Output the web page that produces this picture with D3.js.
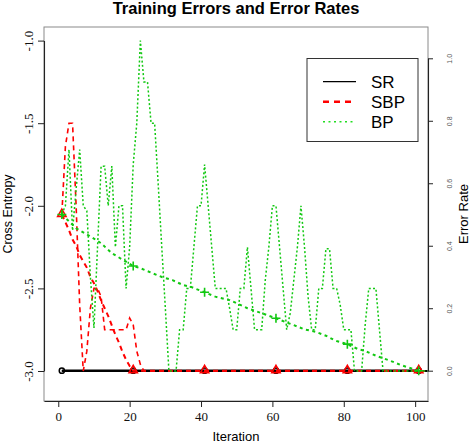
<!DOCTYPE html>
<html>
<head>
<meta charset="utf-8">
<script src="https://cdn.jsdelivr.net/npm/d3@7"></script>
<style>
  body { margin: 0; background: #fff; }
  svg text { font-family: "Liberation Sans", Arial, sans-serif; }
</style>
</head>
<body>
<div id="chart"></div>
<script>
// cross entropy per iteration (1..104), left axis
const bpEntropy = [
  -2.05, -2.00, -1.66, -2.15, -1.90, -1.66, -2.00, -2.03, -2.43, -2.74,
  -2.25, -1.76, -1.76, -2.00, -1.76, -2.25, -2.00, -2.00, -2.50, -2.25,
  -1.75, -1.50, -1.00, -1.25, -1.25, -1.50, -1.50, -1.87, -2.25, -2.62,
  -3.00, -3.00, -3.00, -2.75, -2.75, -2.50, -2.50, -2.25, -2.00, -2.00,
  -1.75, -2.00, -2.25, -2.50, -2.50, -2.50, -2.50, -2.62, -2.75, -2.75,
  -2.50, -2.50, -2.25, -2.50, -2.75, -2.75, -2.75, -2.45, -2.25, -2.00,
  -2.00, -2.25, -2.50, -2.75, -2.65, -2.45, -2.25, -2.00, -2.25, -2.55,
  -2.75, -2.75, -2.50, -2.50, -2.26, -2.26, -2.50, -2.50, -2.60, -2.75,
  -2.75, -2.75, -3.00, -3.00, -3.00, -2.72, -2.50, -2.50, -2.50, -2.75,
  -3.00, -3.00, -3.00, -3.00, -3.00, -3.00, -3.00, -3.00, -3.00, -3.00,
  -3.00, -3.00, -3.00, -3.00
]
const sbpEntropy = [
  -2.05, -1.64, -1.50, -1.50, -2.00, -2.60, -3.00, -2.88, -2.62, -2.50,
  -2.50, -2.55, -2.75, -2.75, -2.75, -2.75, -2.75, -2.75, -2.75, -2.68,
  -2.72, -2.88, -2.96, -3.00, -3.00, -3.00, -3.00, -3.00, -3.00, -3.00,
  -3.00, -3.00, -3.00, -3.00, -3.00, -3.00, -3.00, -3.00, -3.00, -3.00,
  -3.00, -3.00, -3.00, -3.00, -3.00, -3.00, -3.00, -3.00, -3.00, -3.00,
  -3.00, -3.00, -3.00, -3.00, -3.00, -3.00, -3.00, -3.00, -3.00, -3.00,
  -3.00, -3.00, -3.00, -3.00, -3.00, -3.00, -3.00, -3.00, -3.00, -3.00,
  -3.00, -3.00, -3.00, -3.00, -3.00, -3.00, -3.00, -3.00, -3.00, -3.00,
  -3.00, -3.00, -3.00, -3.00, -3.00, -3.00, -3.00, -3.00, -3.00, -3.00,
  -3.00, -3.00, -3.00, -3.00, -3.00, -3.00, -3.00, -3.00, -3.00, -3.00,
  -3.00, -3.00, -3.00, -3.00
]
const srEntropyIter = [1, 104]
const srEntropy = [-3.0, -3.0]

// error rates, right axis
const srRateIter = [1, 21, 41, 61, 81, 101]
const srRate = [0, 0, 0, 0, 0, 0]
const sbpRateIter = [1, 2, 3, 4, 5, 6, 7, 8, 9, 10, 11, 12, 13, 14, 15, 16, 17, 18, 19, 20, 21, 41, 61, 81, 101]
const sbpRate = [0.50, 0.475, 0.45, 0.42, 0.40, 0.37, 0.35, 0.33, 0.30, 0.28, 0.255, 0.225, 0.20, 0.175,
  0.145, 0.115, 0.09, 0.06, 0.035, 0.015, 0.0, 0.0, 0.0, 0.0, 0.0]
const bpRateIter = [1, 5, 9, 12, 15, 19, 21, 23, 26, 29, 32, 35, 37, 41, 44, 48, 50, 53, 57, 61,
  64, 66, 69, 72, 75, 77, 78, 81, 84, 86, 89, 93, 96, 101]
const bpRate = [0.50, 0.456, 0.43, 0.408, 0.376, 0.349, 0.335, 0.328, 0.314, 0.30, 0.29, 0.274, 0.269,
  0.251, 0.237, 0.226, 0.216, 0.20, 0.184, 0.168, 0.154, 0.146, 0.132, 0.125, 0.112, 0.10, 0.095,
  0.085, 0.069, 0.063, 0.048, 0.032, 0.018, 0.0]

const markerIters = [1, 21, 41, 61, 81, 101]
const xTicks = [0, 20, 40, 60, 80, 100]
const leftTicks = [-3.0, -2.5, -2.0, -1.5, -1.0]
const rightTicks = [0.0, 0.2, 0.4, 0.6, 0.8, 1.0]
const legendNames = ["SR", "SBP", "BP"]

const green = "#11c811"
const red = "#ff0000"

const box = { left: 44, top: 27, right: 428, bottom: 401 }

const svg = d3.select("#chart").append("svg")
  .attr("width", 470).attr("height", 444)

const x = d3.scaleLinear().domain([-4, 103.6]).range([box.left, box.right])
const yL = d3.scaleLinear().domain([-3, -1]).range([371, 40.6])
const yR = d3.scaleLinear().domain([0, 1]).range([370.7, 58.3])

svg.append("defs").append("clipPath").attr("id", "plotclip")
  .append("rect")
  .attr("x", box.left).attr("y", box.top)
  .attr("width", box.right - box.left).attr("height", box.bottom - box.top)

const pairs = (iters, vals) => iters.map((it, i) => [it, vals[i]])
const perIter = vals => vals.map((v, i) => [i + 1, v])

const lineL = d3.line().x(d => x(d[0])).y(d => yL(d[1]))
const lineR = d3.line().x(d => x(d[0])).y(d => yR(d[1]))

const plot = svg.append("g").attr("clip-path", "url(#plotclip)")

const series = [
  { data: pairs(srEntropyIter, srEntropy), gen: lineL, color: "#000", width: 2.2, dash: null },
  { data: pairs(srRateIter, srRate), gen: lineR, color: "#000", width: 2.2, dash: null },
  { data: perIter(sbpEntropy), gen: lineL, color: red, width: 1.6, dash: "5,4" },
  { data: pairs(sbpRateIter, sbpRate), gen: lineR, color: red, width: 2, dash: "5,4" },
  { data: perIter(bpEntropy), gen: lineL, color: green, width: 1.5, dash: "2,2.2" },
  { data: pairs(bpRateIter, bpRate), gen: lineR, color: green, width: 2, dash: "3,3.5" }
]

const markerPts = (iters, vals) => pairs(iters, vals).filter(d => markerIters.includes(d[0]))

function drawLine(s) {
  plot.append("path")
    .attr("d", s.gen(s.data))
    .attr("fill", "none")
    .attr("stroke", s.color)
    .attr("stroke-width", s.width)
    .attr("stroke-dasharray", s.dash)
}

series.slice(0, 2).forEach(drawLine)
// SR circles
plot.selectAll(".srpt").data(markerPts(srRateIter, srRate)).enter().append("circle")
  .attr("cx", d => x(d[0])).attr("cy", d => yR(d[1])).attr("r", 2.6)
  .attr("fill", "none").attr("stroke", "#000").attr("stroke-width", 1.5)

series.slice(2, 4).forEach(drawLine)
// SBP triangles
plot.selectAll(".sbppt").data(markerPts(sbpRateIter, sbpRate)).enter().append("path")
  .attr("d", d3.symbol().type(d3.symbolTriangle).size(30))
  .attr("transform", d => `translate(${x(d[0])},${yR(d[1]) - 0.5})`)
  .attr("fill", "none").attr("stroke", red).attr("stroke-width", 1.6)

series.slice(4).forEach(drawLine)
// BP crosses
plot.selectAll(".bppt").data(markerPts(bpRateIter, bpRate)).enter().append("path")
  .attr("d", "M-4.5,0H4.5M0,-4.5V4.5")
  .attr("transform", d => `translate(${x(d[0])},${yR(d[1])})`)
  .attr("fill", "none").attr("stroke", green).attr("stroke-width", 1.6)

// box
svg.append("rect")
  .attr("x", box.left).attr("y", box.top)
  .attr("width", box.right - box.left).attr("height", box.bottom - box.top)
  .attr("fill", "none").attr("stroke", "#8a8a8a").attr("stroke-width", 1)

// axes
const fmt = d => d.toFixed(1)
const styleAxis = g => {
  g.select(".domain").attr("stroke", "#222").attr("stroke-width", 1.1)
  g.selectAll(".tick line").attr("stroke", "#222")
}

svg.append("g").attr("transform", `translate(0,${box.bottom})`)
  .call(d3.axisBottom(x).tickValues(xTicks).tickSize(6).tickSizeOuter(0))
  .call(styleAxis)
  .call(g => g.selectAll(".tick text")
    .attr("y", 20).attr("dy", 0)
    .style("font-family", "'Liberation Serif', 'Times New Roman', serif")
    .style("font-size", "13px").attr("fill", "#111"))

svg.append("g").attr("transform", `translate(${box.left},0)`)
  .call(d3.axisLeft(yL).tickValues(leftTicks).tickFormat(fmt).tickSize(6).tickSizeOuter(0))
  .call(styleAxis)
  .call(g => g.selectAll(".tick text")
    .attr("transform", "rotate(-90)")
    .attr("x", 0).attr("y", -11).attr("dy", 0)
    .attr("text-anchor", "middle")
    .style("font-family", "'Liberation Serif', 'Times New Roman', serif")
    .style("font-size", "13px").attr("fill", "#111"))

svg.append("g").attr("transform", `translate(${box.right},0)`)
  .call(d3.axisRight(yR).tickValues(rightTicks).tickFormat(fmt).tickSize(5).tickSizeOuter(0))
  .call(styleAxis)
  .call(g => g.selectAll(".tick text")
    .attr("transform", "rotate(-90)")
    .attr("x", 0).attr("y", 23.5).attr("dy", 0)
    .attr("text-anchor", "middle")
    .style("font-size", "7px").attr("fill", "#555"))

// titles
svg.append("text").attr("x", 236).attr("y", 14).attr("text-anchor", "middle")
  .style("font-size", "16.5px").style("font-weight", "bold").text("Training Errors and Error Rates")
svg.append("text").attr("x", 236).attr("y", 441).attr("text-anchor", "middle")
  .style("font-size", "13px").text("Iteration")
svg.append("text").attr("transform", "translate(11.5,214) rotate(-90)").attr("text-anchor", "middle")
  .style("font-size", "12.5px").text("Cross Entropy")
svg.append("text").attr("transform", "translate(468,214) rotate(-90)").attr("text-anchor", "middle")
  .style("font-size", "13px").text("Error Rate")

// legend
const legend = svg.append("g")
legend.append("rect").attr("x", 307).attr("y", 58.5).attr("width", 111).attr("height", 83)
  .attr("fill", "#fff").attr("stroke", "#333").attr("stroke-width", 1)
const legendStyle = [
  { color: "#000", width: 1.3, dash: null },
  { color: red, width: 2.5, dash: "6,5" },
  { color: "#22dd22", width: 1.5, dash: "2,3.5" }
]
legendNames.forEach((name, i) => {
  const ly = 81.7 + i * 20
  legend.append("line").attr("x1", 323).attr("x2", 356).attr("y1", ly).attr("y2", ly)
    .attr("stroke", legendStyle[i].color).attr("stroke-width", legendStyle[i].width)
    .attr("stroke-dasharray", legendStyle[i].dash)
  legend.append("text").attr("x", 371).attr("y", ly + 6)
    .style("font-size", "17px").text(name)
})
</script>
</body>
</html>
